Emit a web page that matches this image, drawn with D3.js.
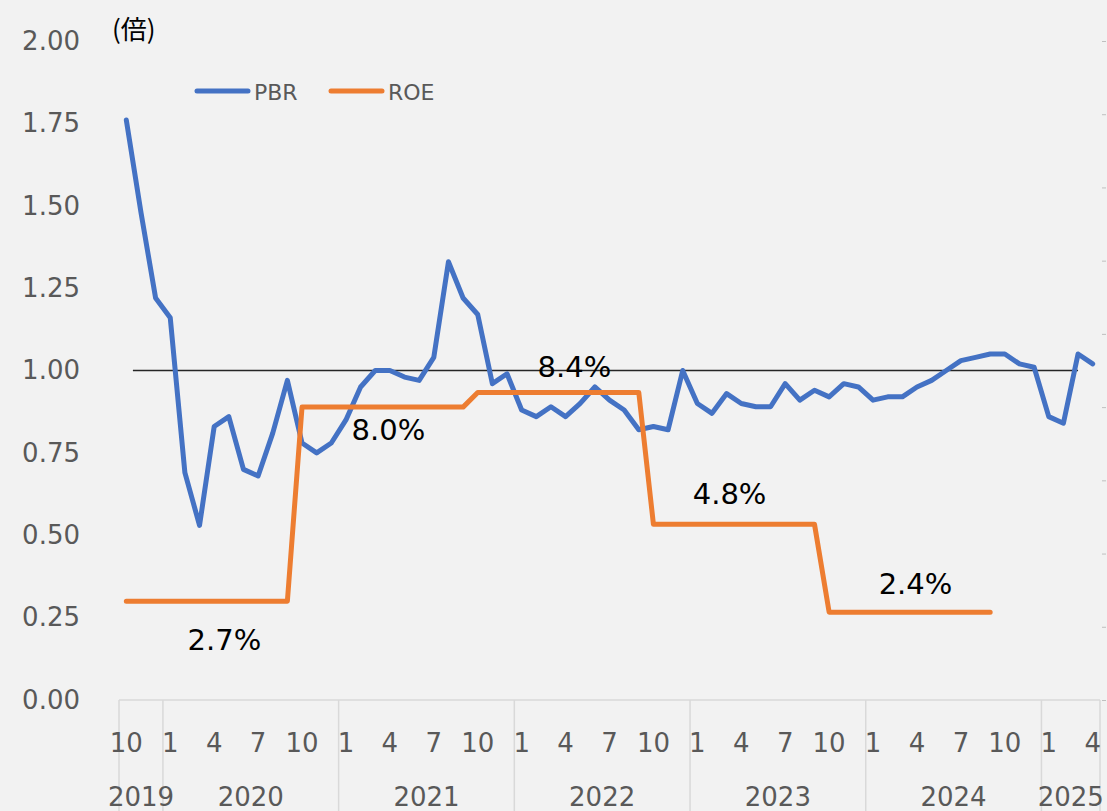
<!DOCTYPE html>
<html>
<head>
<meta charset="utf-8">
<script src="https://cdn.jsdelivr.net/npm/d3@7"></script>
<style>
  html, body { margin: 0; padding: 0; background: #f2f2f2; overflow: hidden; }
  svg { display: block; font-family: 'DejaVu Sans', Verdana, sans-serif; }
</style>
</head>
<body>
<svg id="chart" width="1107" height="811"></svg>
<script>
// ===================================
// Data
// ===================================

// Monthly categories: 2019-10 .. 2025-04
const years = [2019, 2020, 2021, 2022, 2023, 2024, 2025];
const months = [
  [2019, 10], [2019, 11], [2019, 12],
  [2020, 1], [2020, 2], [2020, 3], [2020, 4], [2020, 5], [2020, 6],
  [2020, 7], [2020, 8], [2020, 9], [2020, 10], [2020, 11], [2020, 12],
  [2021, 1], [2021, 2], [2021, 3], [2021, 4], [2021, 5], [2021, 6],
  [2021, 7], [2021, 8], [2021, 9], [2021, 10], [2021, 11], [2021, 12],
  [2022, 1], [2022, 2], [2022, 3], [2022, 4], [2022, 5], [2022, 6],
  [2022, 7], [2022, 8], [2022, 9], [2022, 10], [2022, 11], [2022, 12],
  [2023, 1], [2023, 2], [2023, 3], [2023, 4], [2023, 5], [2023, 6],
  [2023, 7], [2023, 8], [2023, 9], [2023, 10], [2023, 11], [2023, 12],
  [2024, 1], [2024, 2], [2024, 3], [2024, 4], [2024, 5], [2024, 6],
  [2024, 7], [2024, 8], [2024, 9], [2024, 10], [2024, 11], [2024, 12],
  [2025, 1], [2025, 2], [2025, 3], [2025, 4],
];
const monthTickLabels = [1, 4, 7, 10];

// PBR (times), primary axis
const pbr = [
  1.76, 1.48, 1.22, 1.16, 0.69, 0.53, 0.83, 0.86, 0.70, 0.68, 0.81, 0.97,
  0.78, 0.75, 0.78, 0.85, 0.95, 1.00, 1.00, 0.98, 0.97, 1.04, 1.33, 1.22,
  1.17, 0.96, 0.99, 0.88, 0.86, 0.89, 0.86, 0.90, 0.95, 0.91, 0.88, 0.82,
  0.83, 0.82, 1.00, 0.90, 0.87, 0.93, 0.90, 0.89, 0.89, 0.96, 0.91, 0.94,
  0.92, 0.96, 0.95, 0.91, 0.92, 0.92, 0.95, 0.97, 1.00, 1.03, 1.04, 1.05,
  1.05, 1.02, 1.01, 0.86, 0.84, 1.05, 1.02,
];

// ROE (%), secondary axis; fiscal year Oct-Sep, ends 2024-09
const roe = [
  2.7, 2.7, 2.7, 2.7, 2.7, 2.7, 2.7, 2.7, 2.7, 2.7, 2.7, 2.7,
  8.0, 8.0, 8.0, 8.0, 8.0, 8.0, 8.0, 8.0, 8.0, 8.0, 8.0, 8.0,
  8.4, 8.4, 8.4, 8.4, 8.4, 8.4, 8.4, 8.4, 8.4, 8.4, 8.4, 8.4,
  4.8, 4.8, 4.8, 4.8, 4.8, 4.8, 4.8, 4.8, 4.8, 4.8, 4.8, 4.8,
  2.4, 2.4, 2.4, 2.4, 2.4, 2.4, 2.4, 2.4, 2.4, 2.4, 2.4, 2.4,
];
const roeLabels = ['2.7%', '8.0%', '8.4%', '4.8%', '2.4%'];
const roeLabelValues = [2.7, 8.0, 8.4, 4.8, 2.4];

const pbrTicks = [0, 0.25, 0.5, 0.75, 1.0, 1.25, 1.5, 1.75, 2.0];
const roeTicks = [0, 2, 4, 6, 8, 10, 12, 14, 16, 18];
const refValue = 1.0;

// ===================================
// Layout
// ===================================

const COLORS = { pbr: '#4472c4', roe: '#ed7d31', text: '#595959', grid: '#d9d9d9' };
const plot = { left: 119, right: 1100, top: 41, bottom: 700 };

// label placement (category index, pixel offset from line)
const roeLabelPos = [
  { at: 6.7, dy: 49 },
  { at: 17.9, dy: 33 },
  { at: 30.6, dy: -15 },
  { at: 41.2, dy: -20 },
  { at: 53.9, dy: -18 },
];

const svg = d3.select('#chart');

const x = d3
  .scaleBand()
  .domain(d3.range(months.length))
  .range([plot.left, plot.right])
  .padding(0);
const cx = (i) => x(i) + x.bandwidth() / 2;
// fractional index position
const xf = d3
  .scaleLinear()
  .domain([0, months.length])
  .range([plot.left, plot.right]);

const y = d3.scaleLinear().domain([0, 2]).range([plot.bottom, plot.top]);
const y2 = d3.scaleLinear().domain([0, 18]).range([plot.bottom, plot.top]);

// ===================================
// Axes
// ===================================

// Left axis labels
svg
  .append('g')
  .attr('transform', `translate(80,0)`)
  .call(d3.axisLeft(y).tickValues(pbrTicks).tickFormat(d3.format('.2f')).tickSize(0))
  .call((g) => g.select('.domain').remove())
  .call((g) =>
    g
      .selectAll('text')
      .attr('x', 0)
      .attr('fill', COLORS.text)
      .attr('font-size', 26)
      .attr('font-family', "'DejaVu Sans', sans-serif"),
  );

// Right axis (labels fall outside the picture, only the marks show)
svg
  .append('g')
  .attr('transform', `translate(${plot.right + 2},0)`)
  .call(d3.axisRight(y2).tickValues(roeTicks).tickFormat('').tickSize(4))
  .call((g) => g.select('.domain').remove())
  .call((g) => g.selectAll('line').attr('stroke', '#bfbfbf').attr('stroke-width', 1));

// Bottom axis line
svg
  .append('line')
  .attr('x1', plot.left)
  .attr('x2', plot.right)
  .attr('y1', plot.bottom)
  .attr('y2', plot.bottom)
  .attr('stroke', COLORS.grid)
  .attr('stroke-width', 1.5);

// Year group dividers
const yearGroups = years.map((yr) => {
  const idx = months.map((m, i) => (m[0] === yr ? i : -1)).filter((i) => i >= 0);
  return { year: yr, first: idx[0], last: idx[idx.length - 1] };
});

const dividerIdx = yearGroups.map((g) => g.first).concat([months.length]);
svg
  .append('g')
  .selectAll('line')
  .data(dividerIdx)
  .join('line')
  .attr('x1', (d) => xf(d))
  .attr('x2', (d) => xf(d))
  .attr('y1', plot.bottom)
  .attr('y2', 811)
  .attr('stroke', COLORS.grid)
  .attr('stroke-width', 1.5);

// Month labels
svg
  .append('g')
  .selectAll('text')
  .data(months.map((m, i) => ({ m: m[1], i })).filter((d) => monthTickLabels.includes(d.m)))
  .join('text')
  .attr('x', (d) => cx(d.i))
  .attr('y', 752)
  .attr('text-anchor', 'middle')
  .attr('font-size', 26)
  .attr('fill', COLORS.text)
  .text((d) => d.m);

// Year labels
svg
  .append('g')
  .selectAll('text')
  .data(yearGroups)
  .join('text')
  .attr('x', (d) => (xf(d.first) + xf(d.last + 1)) / 2)
  .attr('y', 806)
  .attr('text-anchor', 'middle')
  .attr('font-size', 26)
  .attr('fill', COLORS.text)
  .text((d) => d.year);

// Unit label
svg
  .append('text')
  .attr('x', 112)
  .attr('y', 39)
  .attr('font-size', 26)
  .attr('font-family', "'Noto Sans CJK JP', sans-serif")
  .attr('fill', '#000')
  .text('(倍)');

// ===================================
// Series
// ===================================

// Reference line at 1.0
svg
  .append('line')
  .attr('x1', xf(0.95))
  .attr('x2', xf(65.5))
  .attr('y1', y(refValue))
  .attr('y2', y(refValue))
  .attr('stroke', '#262626')
  .attr('stroke-width', 1.5);

const pbrLine = d3
  .line()
  .x((d, i) => cx(i))
  .y((d) => y(d));

svg
  .append('path')
  .datum(pbr)
  .attr('d', pbrLine)
  .attr('fill', 'none')
  .attr('stroke', COLORS.pbr)
  .attr('stroke-width', 5)
  .attr('stroke-linejoin', 'round')
  .attr('stroke-linecap', 'round');

const roeLine = d3
  .line()
  .x((d, i) => cx(i))
  .y((d) => y2(d));

svg
  .append('path')
  .datum(roe)
  .attr('d', roeLine)
  .attr('fill', 'none')
  .attr('stroke', COLORS.roe)
  .attr('stroke-width', 5)
  .attr('stroke-linejoin', 'round')
  .attr('stroke-linecap', 'round');

// ROE data labels
svg
  .append('g')
  .selectAll('text')
  .data(roeLabels.map((t, k) => ({ t, v: roeLabelValues[k], pos: roeLabelPos[k] })))
  .join('text')
  .attr('x', (d) => cx(0) + (xf(d.pos.at) - xf(0)))
  .attr('y', (d) => y2(d.v) + d.pos.dy)
  .attr('text-anchor', 'middle')
  .attr('font-size', 29)
  .attr('fill', '#000')
  .text((d) => d.t);

// ===================================
// Legend
// ===================================

const legendItems = [
  { name: 'PBR', color: COLORS.pbr, x: 197 },
  { name: 'ROE', color: COLORS.roe, x: 331 },
];

const legend = svg
  .append('g')
  .selectAll('g')
  .data(legendItems)
  .join('g')
  .attr('transform', (d) => `translate(${d.x},91)`);

legend
  .append('line')
  .attr('x1', 0)
  .attr('x2', 51)
  .attr('stroke', (d) => d.color)
  .attr('stroke-width', 5)
  .attr('stroke-linecap', 'round');

legend
  .append('text')
  .attr('x', 57)
  .attr('y', 9)
  .attr('font-size', 22)
  .attr('fill', COLORS.text)
  .text((d) => d.name);
</script>
</body>
</html>
